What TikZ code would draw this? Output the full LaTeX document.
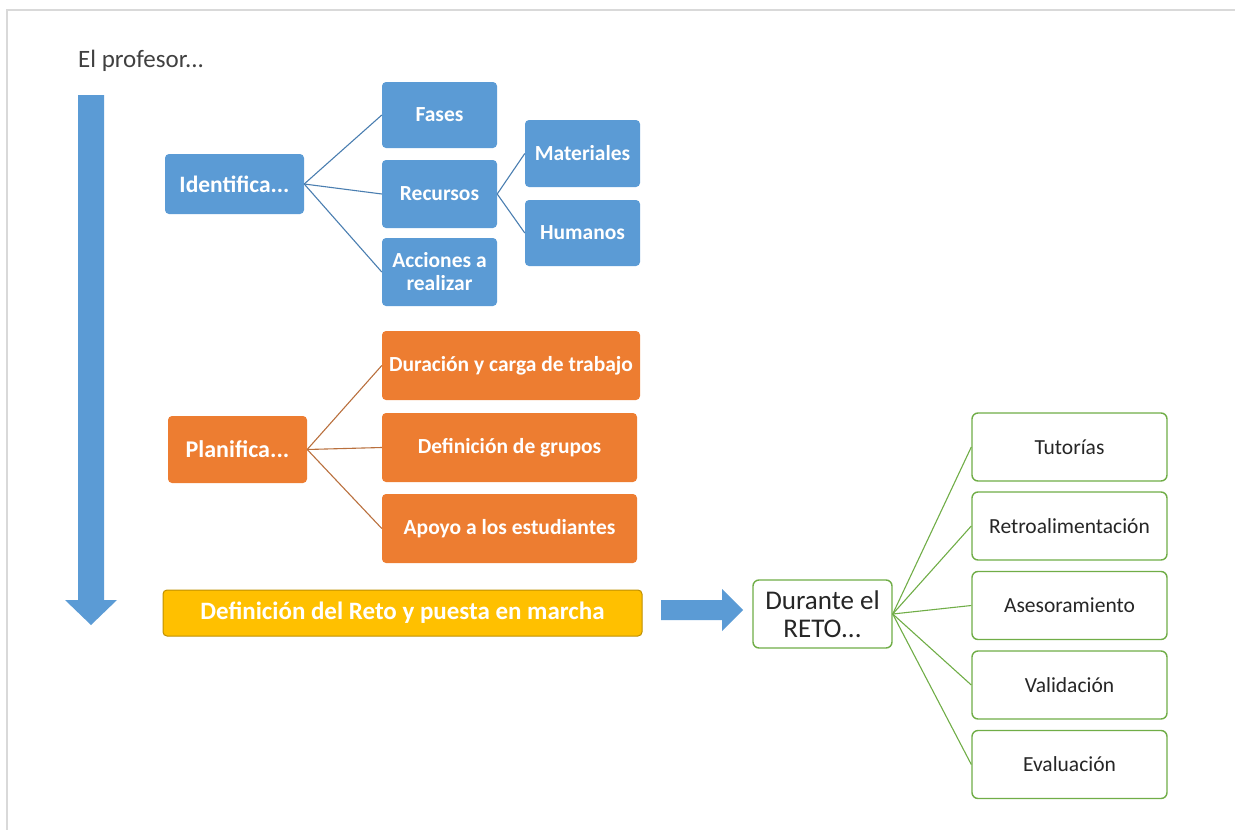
\documentclass[tikz,border=0pt]{standalone}
\usepackage{fontspec}
\setmainfont{Carlito}
\usepackage{tikz}
\usetikzlibrary{calc}
\definecolor{azul}{HTML}{5B9BD5}
\definecolor{azullinea}{HTML}{4A7EB0}
\definecolor{naranja}{HTML}{ED7D31}
\definecolor{naranjalinea}{HTML}{B9703E}
\definecolor{oro}{HTML}{FFC000}
\definecolor{orolinea}{HTML}{BF9000}
\definecolor{verde}{HTML}{70AD47}
\definecolor{texto}{HTML}{262626}
\tikzset{
	caja/.style={rounded corners=4, inner sep=0, align=center, text=white, font=\fontsize{21.5}{23}\selectfont\bfseries},
	cajaazul/.style={caja, fill=azul},
	cajanaranja/.style={caja, fill=naranja},
	cajaverde/.style={rounded corners=6, inner sep=0, align=center, draw=verde, line width=1.4, fill=white, text=texto, font=\fontsize{21.5}{23}\selectfont, minimum width=195, minimum height=68},
	rama/.style={line width=1.1},
}

\begin{document}
\begin{tikzpicture}[x=1pt, y=-1pt]
		%%%%% START %%%%%
		\useasboundingbox (0, 0) rectangle (1235, 830);
		\draw[line width=2, color=black!15] (7, 830) -- (7, 10) -- (1235, 10);
		
		\node[anchor=base west, inner sep=0, text=black!75, font=\fontsize{25}{28}\selectfont] (profesor) at (78, 67) {El profesor...};
		
		% flecha hacia abajo
		\fill[azul] (78, 95) -- (104, 95) -- (104, 600) -- (117, 600) -- (91, 625) -- (65, 600) -- (78, 600) -- cycle;
		
		% Identifica
		\node[cajaazul, minimum width=139, minimum height=60, font=\fontsize{23.5}{26}\selectfont\bfseries] (ident) at (234.5, 184) {Identifica...};
		\node[cajaazul, minimum width=115, minimum height=66] (fases) at (439.5, 115) {Fases};
		\node[cajaazul, minimum width=115, minimum height=68] (recursos) at (439.5, 194) {Recursos};
		\node[cajaazul, minimum width=115, minimum height=68] (acciones) at (439.5, 272) {Acciones a\\realizar};
		\node[cajaazul, minimum width=115, minimum height=67] (materiales) at (582.5, 153.5) {Materiales};
		\node[cajaazul, minimum width=115, minimum height=66] (humanos) at (582.5, 233) {Humanos};
		
		\draw[rama, color=azullinea] (ident.east) -- (fases.west);
		\draw[rama, color=azullinea] (ident.east) -- (recursos.west);
		\draw[rama, color=azullinea] (ident.east) -- (acciones.west);
		\draw[rama, color=azullinea] (recursos.east) -- (materiales.west);
		\draw[rama, color=azullinea] (recursos.east) -- (humanos.west);
		
		% Planifica
		\node[cajanaranja, minimum width=139, minimum height=67, font=\fontsize{24}{28}\selectfont\bfseries] (planif) at (237.5, 449.5) {Planifica...};
		\node[cajanaranja, minimum width=258, minimum height=69] (duracion) at (511, 365.5) {Duración y carga de trabajo};
		\node[cajanaranja, minimum width=255, minimum height=69] (grupos) at (509.5, 447.5) {Definición de grupos};
		\node[cajanaranja, minimum width=255, minimum height=69] (apoyo) at (509.5, 528.5) {Apoyo a los estudiantes};
		
		\draw[rama, color=naranjalinea] (planif.east) -- (duracion.west);
		\draw[rama, color=naranjalinea] (planif.east) -- (grupos.west);
		\draw[rama, color=naranjalinea] (planif.east) -- (apoyo.west);
		
		% Reto
		\node[caja, fill=oro, draw=orolinea, line width=1, minimum width=479, minimum height=46, font=\fontsize{25}{28}\selectfont\bfseries] (reto) at (402.5, 613) {Definición del Reto y puesta en marcha};
		
		\fill[azul] (661, 600) -- (722, 600) -- (722, 589) -- (743, 610) -- (722, 631) -- (722, 620) -- (661, 620) -- cycle;
		
		% Durante el RETO
		\node[cajaverde, minimum width=139, minimum height=68, font=\fontsize{27}{28}\selectfont] (durante) at (822.5, 614) {Durante el\\RETO...};
		\node[cajaverde] (tutorias) at (1069.5, 447) {Tutorías};
		\node[cajaverde] (retro) at (1069.5, 526) {Retroalimentación};
		\node[cajaverde] (asesor) at (1069.5, 605.5) {Asesoramiento};
		\node[cajaverde] (valid) at (1069.5, 685) {Validación};
		\node[cajaverde] (eval) at (1069.5, 764.5) {Evaluación};
		
		\draw[rama, color=verde] (durante.east) -- (tutorias.west);
		\draw[rama, color=verde] (durante.east) -- (retro.west);
		\draw[rama, color=verde] (durante.east) -- (asesor.west);
		\draw[rama, color=verde] (durante.east) -- (valid.west);
		\draw[rama, color=verde] (durante.east) -- (eval.west);
		
		%%%%% END %%%%%
	\end{tikzpicture}
\end{document}
